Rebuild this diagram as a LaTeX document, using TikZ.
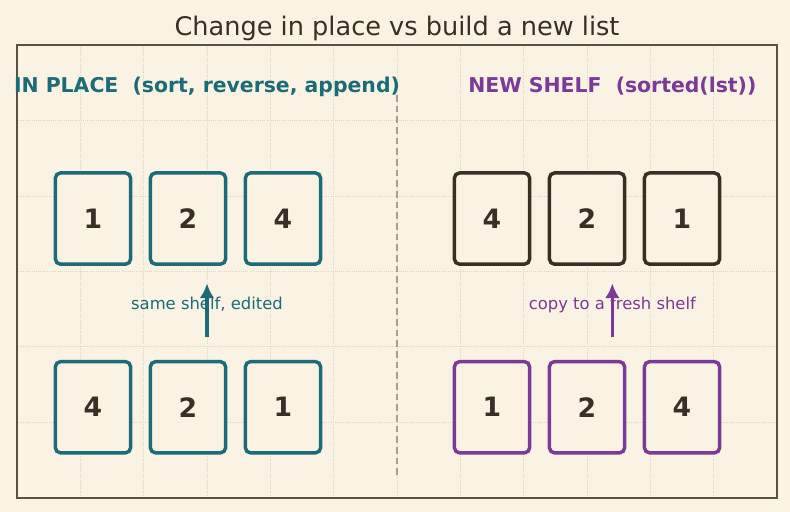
\documentclass[tikz,border=0pt]{standalone}
\usepackage{fontspec}
\setmainfont{DejaVu Sans}
\usetikzlibrary{arrows.meta}

\definecolor{bgcream}{HTML}{FAF3E4}
\definecolor{shelft}{HTML}{1B6B78}
\definecolor{shelfp}{HTML}{7B3A98}
\definecolor{inkdark}{HTML}{3A2E26}
\definecolor{framec}{HTML}{5C5042}
\definecolor{gridc}{HTML}{E0D5C0}
\definecolor{divc}{HTML}{A99F90}

\tikzset{
  slot/.style={draw=#1,line width=2.6pt,rounded corners=4pt,fill=bgcream,
    minimum width=56.5pt,minimum height=68.5pt,
    inner sep=0pt,text=inkdark,font=\fontsize{20}{21}\selectfont\bfseries},
  head/.style={text=#1,font=\fontsize{15.3}{16}\selectfont\bfseries},
  note/.style={text=#1,font=\fontsize{12.3}{13}\selectfont},
  lift/.style={draw=#1,line width=2.7pt,-{Latex[length=11pt,width=11pt]}}
}

\begin{document}
\begin{tikzpicture}[x=47.5pt,y=56.6pt]

\fill[bgcream] (-0.268,-0.185) rectangle (12.205,6.596);
\useasboundingbox (-0.268,-0.185) rectangle (12.205,6.596);

% faint grid
\foreach \x in {1,...,11}
	\draw[gridc,line width=0.6pt,densely dotted] (\x,0)--(\x,6);
\foreach \y in {1,...,5}
	\draw[gridc,line width=0.6pt,densely dotted] (0,\y)--(12,\y);

\draw[framec,line width=1.1pt] (0,0) rectangle (12,6);

\node[text=inkdark,font=\fontsize{19.2}{20}\selectfont] (title) at (6,6.22) {Change in place vs build a new list};

\draw[divc,line width=1.6pt,dash pattern=on 5pt off 3pt] (6,0.3)--(6,5.35);

\node[head=shelft] (hleft) at (3.0,5.45) {IN PLACE\ \ (sort, reverse, append)};
\node[head=shelfp] (hright) at (9.4,5.45) {NEW SHELF\ \ (sorted(lst))};

% left: same shelf
\foreach \v [count=\i] in {1,2,4}
	\node[slot=shelft] (lt\i) at (1.2+1.5*\i-1.5,3.7) {\v};
\foreach \v [count=\i] in {4,2,1}
	\node[slot=shelft] (lb\i) at (1.2+1.5*\i-1.5,1.2) {\v};

% right: fresh shelf
\foreach \v [count=\i] in {4,2,1}
	\node[slot=inkdark] (rt\i) at (7.5+1.5*\i-1.5,3.7) {\v};
\foreach \v [count=\i] in {1,2,4}
	\node[slot=shelfp] (rb\i) at (7.5+1.5*\i-1.5,1.2) {\v};

\node[note=shelft] (lnote) at (3.0,2.56) {same shelf, edited};
\node[note=shelfp] (rnote) at (9.4,2.56) {copy to a fresh shelf};

\coordinate (la0) at (3.0,2.13);
\coordinate (la1) at (3.0,2.84);
\coordinate (ra0) at (9.4,2.13);
\coordinate (ra1) at (9.4,2.84);
\draw[lift=shelft] (la0)--(la1);
\draw[lift=shelfp] (ra0)--(ra1);

\end{tikzpicture}
\end{document}
